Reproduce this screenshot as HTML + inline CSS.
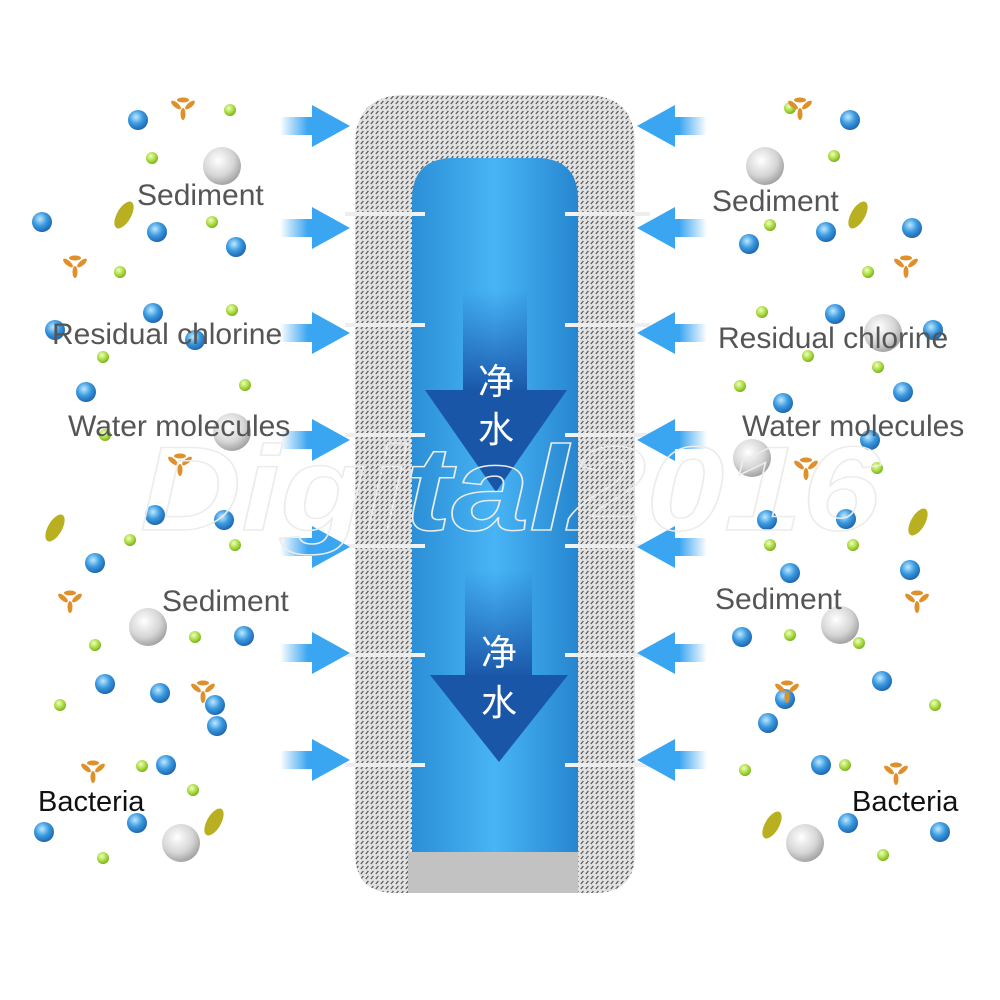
<!DOCTYPE html>
<html><head><meta charset="utf-8"><style>
html,body{margin:0;padding:0;background:#fff;width:1000px;height:1000px;overflow:hidden}
svg{display:block}
.lb{font-family:"Liberation Sans","DejaVu Sans",sans-serif;font-size:30px;fill:#555}
.bk{font-family:"Liberation Sans","DejaVu Sans",sans-serif;font-size:29px;fill:#111}
.cn{font-family:"Liberation Sans","Noto Sans CJK SC",sans-serif;font-size:36px;fill:#fff}
</style></head><body>
<svg width="1000" height="1000" viewBox="0 0 1000 1000" xmlns="http://www.w3.org/2000/svg">
<defs>
<pattern id="hatch" width="5" height="5" patternUnits="userSpaceOnUse">
<rect width="5" height="5" fill="#e2e2e2"/>
<path d="M0.8 4 L3.4 1" stroke="#555" stroke-width="1.2"/>
</pattern>
<linearGradient id="blue" x1="0" x2="1" y1="0" y2="0">
<stop offset="0" stop-color="#2b8fd6"/><stop offset="0.5" stop-color="#48b4f5"/><stop offset="1" stop-color="#2686cf"/>
</linearGradient>
<linearGradient id="shaft" x1="0" x2="0" y1="0" y2="1">
<stop offset="0" stop-color="#1f63b8" stop-opacity="0"/><stop offset="1" stop-color="#1a56a8"/>
</linearGradient>
<linearGradient id="ar" x1="0" x2="1"><stop offset="0" stop-color="#3aa5f0" stop-opacity="0"/><stop offset="0.7" stop-color="#3aa5f0"/></linearGradient>
<linearGradient id="al" x1="1" x2="0"><stop offset="0" stop-color="#3aa5f0" stop-opacity="0"/><stop offset="0.7" stop-color="#3aa5f0"/></linearGradient>
<radialGradient id="gb" cx="0.4" cy="0.35" r="0.7"><stop offset="0" stop-color="#bfe8ff"/><stop offset="0.5" stop-color="#3a9ae0"/><stop offset="1" stop-color="#1b5fa8"/></radialGradient>
<radialGradient id="gg" cx="0.4" cy="0.35" r="0.7"><stop offset="0" stop-color="#f0ffc0"/><stop offset="0.6" stop-color="#a5d83a"/><stop offset="1" stop-color="#6fa81c"/></radialGradient>
<radialGradient id="gw" cx="0.4" cy="0.35" r="0.7"><stop offset="0" stop-color="#ffffff"/><stop offset="0.6" stop-color="#d5d5d5"/><stop offset="1" stop-color="#9a9a9a"/></radialGradient>
<symbol id="B" overflow="visible"><circle r="10" fill="url(#gb)"/></symbol>
<symbol id="G" overflow="visible"><circle r="6" fill="url(#gg)"/></symbol>
<symbol id="W" overflow="visible"><circle r="19" fill="url(#gw)"/></symbol>
<symbol id="Y" overflow="visible"><ellipse rx="7" ry="15" transform="rotate(30)" fill="#b8b020"/></symbol>
<symbol id="O" overflow="visible"><g fill="#e0902a"><ellipse cx="0" cy="-7" rx="6" ry="2.5"/><ellipse cx="-7" cy="-2" rx="2.5" ry="6" transform="rotate(-50 -7 -2)"/><ellipse cx="7" cy="-2" rx="2.5" ry="6" transform="rotate(50 7 -2)"/><ellipse cx="0" cy="7" rx="2.5" ry="6"/></g></symbol>
<symbol id="AR" overflow="visible"><rect x="-70" y="-9" width="40" height="18" fill="url(#ar)"/><path d="M-38 -9 L-38 -21 L0 0 L-38 21 L-38 9Z" fill="#3aa5f0"/></symbol>
<symbol id="AL" overflow="visible"><rect x="30" y="-9" width="40" height="18" fill="url(#al)"/><path d="M38 -9 L38 -21 L0 0 L38 21 L38 9Z" fill="#3aa5f0"/></symbol>
</defs>

<g>
<use href="#B" x="138" y="120"/><use href="#B" x="42" y="222"/><use href="#B" x="157" y="232"/><use href="#B" x="236" y="247"/>
<use href="#B" x="153" y="313"/><use href="#B" x="55" y="330"/><use href="#B" x="195" y="340"/><use href="#B" x="86" y="392"/>
<use href="#B" x="155" y="515"/><use href="#B" x="224" y="520"/><use href="#B" x="95" y="563"/><use href="#B" x="244" y="636"/>
<use href="#B" x="105" y="684"/><use href="#B" x="160" y="693"/><use href="#B" x="217" y="726"/><use href="#B" x="44" y="832"/>
<use href="#B" x="137" y="823"/><use href="#B" x="166" y="765"/><use href="#B" x="215" y="705"/>
<use href="#G" x="230" y="110"/><use href="#G" x="152" y="158"/><use href="#G" x="212" y="222"/><use href="#G" x="120" y="272"/>
<use href="#G" x="232" y="310"/><use href="#G" x="103" y="357"/><use href="#G" x="245" y="385"/><use href="#G" x="105" y="435"/>
<use href="#G" x="130" y="540"/><use href="#G" x="235" y="545"/><use href="#G" x="95" y="645"/><use href="#G" x="195" y="637"/>
<use href="#G" x="60" y="705"/><use href="#G" x="142" y="766"/><use href="#G" x="193" y="790"/><use href="#G" x="103" y="858"/>
<use href="#W" x="222" y="166"/><use href="#W" x="148" y="627"/><use href="#W" x="181" y="843"/><use href="#W" x="232" y="432"/>
<use href="#Y" x="124" y="215"/><use href="#Y" x="55" y="528"/><use href="#Y" x="214" y="822"/>
<use href="#O" x="183" y="107"/><use href="#O" x="75" y="265"/><use href="#O" x="180" y="463"/><use href="#O" x="70" y="600"/><use href="#O" x="203" y="690"/><use href="#O" x="93" y="770"/>
</g>
<g>
<use href="#B" x="850" y="120"/><use href="#B" x="912" y="228"/><use href="#B" x="826" y="232"/><use href="#B" x="749" y="244"/>
<use href="#B" x="933" y="330"/><use href="#B" x="835" y="314"/><use href="#B" x="903" y="392"/><use href="#B" x="783" y="403"/>
<use href="#B" x="870" y="440"/><use href="#B" x="767" y="520"/><use href="#B" x="846" y="519"/><use href="#B" x="910" y="570"/>
<use href="#B" x="790" y="573"/><use href="#B" x="742" y="637"/><use href="#B" x="882" y="681"/><use href="#B" x="768" y="723"/>
<use href="#B" x="821" y="765"/><use href="#B" x="940" y="832"/><use href="#B" x="848" y="823"/><use href="#B" x="785" y="699"/>
<use href="#G" x="790" y="108"/><use href="#G" x="834" y="156"/><use href="#G" x="770" y="225"/><use href="#G" x="868" y="272"/>
<use href="#G" x="762" y="312"/><use href="#G" x="808" y="356"/><use href="#G" x="740" y="386"/><use href="#G" x="878" y="367"/>
<use href="#G" x="877" y="468"/><use href="#G" x="853" y="545"/><use href="#G" x="770" y="545"/><use href="#G" x="859" y="643"/>
<use href="#G" x="790" y="635"/><use href="#G" x="935" y="705"/><use href="#G" x="845" y="765"/><use href="#G" x="883" y="855"/>
<use href="#G" x="745" y="770"/>
<use href="#W" x="765" y="166"/><use href="#W" x="752" y="458"/><use href="#W" x="840" y="625"/><use href="#W" x="805" y="843"/><use href="#W" x="883" y="333"/>
<use href="#Y" x="858" y="215"/><use href="#Y" x="918" y="522"/><use href="#Y" x="772" y="825"/>
<use href="#O" x="800" y="107"/><use href="#O" x="906" y="265"/><use href="#O" x="806" y="467"/><use href="#O" x="917" y="600"/><use href="#O" x="787" y="690"/><use href="#O" x="896" y="772"/>
</g>

<path d="M355 145 Q355 95 405 95 L585 95 Q635 95 635 145 L635 853 Q635 893 595 893 L395 893 Q355 893 355 853Z" fill="url(#hatch)"/>
<g stroke="#eeeeee" stroke-width="4">
<line x1="345" y1="214" x2="650" y2="214"/><line x1="345" y1="325" x2="650" y2="325"/><line x1="345" y1="435" x2="650" y2="435"/>
<line x1="345" y1="546" x2="650" y2="546"/><line x1="345" y1="655" x2="650" y2="655"/><line x1="345" y1="765" x2="650" y2="765"/>
</g>
<path d="M412 200 Q412 158 454 158 L536 158 Q578 158 578 200 L578 853 L412 853Z" fill="url(#blue)"/>
<rect x="408" y="852" width="170" height="41" fill="#c2c2c2"/>
<g stroke="#f2f2f2" stroke-width="4">
<line x1="412" y1="214" x2="425" y2="214"/><line x1="565" y1="214" x2="578" y2="214"/>
<line x1="412" y1="325" x2="425" y2="325"/><line x1="565" y1="325" x2="578" y2="325"/>
<line x1="412" y1="435" x2="425" y2="435"/><line x1="565" y1="435" x2="578" y2="435"/>
<line x1="412" y1="546" x2="425" y2="546"/><line x1="565" y1="546" x2="578" y2="546"/>
<line x1="412" y1="655" x2="425" y2="655"/><line x1="565" y1="655" x2="578" y2="655"/>
<line x1="412" y1="765" x2="425" y2="765"/><line x1="565" y1="765" x2="578" y2="765"/>
</g>
<rect x="463" y="290" width="64" height="102" fill="url(#shaft)"/>
<path d="M425 390 L567 390 L496 492Z" fill="#1a56a8"/>
<text class="cn" x="496" y="394" text-anchor="middle">净</text>
<text class="cn" x="496" y="442" text-anchor="middle">水</text>
<rect x="465" y="570" width="67" height="107" fill="url(#shaft)"/>
<path d="M430 675 L568 675 L499 762Z" fill="#1a56a8"/>
<text class="cn" x="499" y="665" text-anchor="middle">净</text>
<text class="cn" x="499" y="715" text-anchor="middle">水</text>

<use href="#AR" x="350" y="126"/><use href="#AR" x="350" y="228"/><use href="#AR" x="350" y="333"/><use href="#AR" x="350" y="440"/>
<use href="#AR" x="350" y="547"/><use href="#AR" x="350" y="653"/><use href="#AR" x="350" y="760"/>
<use href="#AL" x="637" y="126"/><use href="#AL" x="637" y="228"/><use href="#AL" x="637" y="333"/><use href="#AL" x="637" y="440"/>
<use href="#AL" x="637" y="547"/><use href="#AL" x="637" y="653"/><use href="#AL" x="637" y="760"/>

<text x="140" y="530" font-family="Liberation Sans,sans-serif" font-weight="bold" font-style="italic" font-size="120" fill="none" stroke="#ececec" stroke-width="1.5" textLength="740" lengthAdjust="spacingAndGlyphs">Digital2016</text>

<text class="lb" x="137" y="205">Sediment</text>
<text class="lb" x="52" y="344">Residual chlorine</text>
<text class="lb" x="68" y="436">Water molecules</text>
<text class="lb" x="162" y="611">Sediment</text>
<text class="bk" x="38" y="811">Bacteria</text>
<text class="lb" x="712" y="211">Sediment</text>
<text class="lb" x="718" y="348">Residual chlorine</text>
<text class="lb" x="742" y="436">Water molecules</text>
<text class="lb" x="715" y="609">Sediment</text>
<text class="bk" x="852" y="811">Bacteria</text>
</svg>
</body></html>
